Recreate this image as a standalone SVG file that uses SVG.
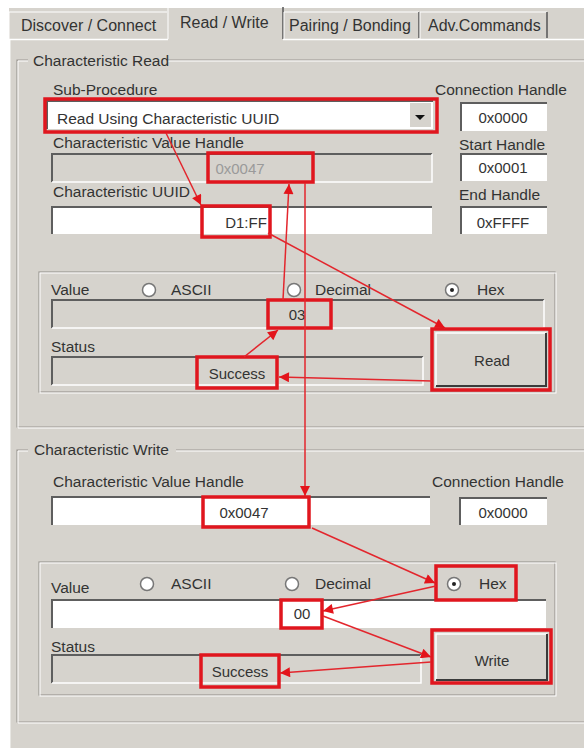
<svg xmlns="http://www.w3.org/2000/svg" width="584" height="751" viewBox="0 0 584 751">
<defs>
<style>
text{font-family:"Liberation Sans",Arial,sans-serif;fill:#333333}
.lbl{font-size:15.5px}
.tab{font-size:16px}
.val{font-size:15px;text-anchor:middle}
.dim{fill:#9a9a9a}
.hl{fill:none;stroke:#e0161e;stroke-width:3.5}
.e1{stroke:#9b9893;stroke-width:1.2;fill:none}
.e2{stroke:#ffffff;stroke-width:1;fill:none}
.fw{fill:#ffffff}
.fg{fill:#d6d3cd}
.sunk{fill:none;stroke:#5e5e5e;stroke-width:2}
.lite{fill:none;stroke:#ffffff;stroke-width:1.5}
.btnhi{fill:none;stroke:#ffffff;stroke-width:1.5}
.btnsh{fill:none;stroke:#3a3a3a;stroke-width:2}
.radio{fill:#ffffff;stroke:#777;stroke-width:1.5}
.conn line{stroke:#e3262d;stroke-width:1.5;fill:none;marker-end:url(#ah)}
</style>
<marker id="ah" viewBox="0 0 10 10" refX="10" refY="5" markerWidth="12" markerHeight="10" markerUnits="userSpaceOnUse" orient="auto"><path d="M0,0 L10,5 L0,10 z" fill="#e3141b"/></marker>
</defs>

<!-- background -->
<rect x="0" y="0" width="584" height="751" fill="#ffffff"/>
<rect x="9" y="8" width="575" height="740" fill="#d6d3cd"/>

<!-- tabs -->
<g id="tabs">
  <path d="M9,39 V12 H167" class="e2" stroke-width="1.5"/>
  <text class="tab" x="21" y="31">Discover / Connect</text>
  <path d="M168,39 V7 H283" class="e2" stroke-width="1.5"/>
  <path d="M283,7 V39" stroke="#555" stroke-width="1.5"/>
  <text class="tab" x="180" y="28">Read / Write</text>
  <path d="M284,39 V12 H419" class="e2"/>
  <path d="M419,12 V38" stroke="#555" stroke-width="1.5"/>
  <text class="tab" x="289" y="31">Pairing / Bonding</text>
  <path d="M420,39 V12 H547" class="e2"/>
  <path d="M547,12 V38" stroke="#555" stroke-width="1.5"/>
  <text class="tab" x="428" y="31">Adv.Commands</text>
  <path d="M9,39.5 H168 M283,39.5 H584 M9.7,39 V748" stroke="#ffffff" stroke-width="1.5"/>
</g>

<!-- Characteristic Read group -->
<g id="read-group">
  <path d="M28,60 H17 V427 H584 M168,60 H584" class="e1"/>
  <path d="M28,61 H18 V428 H584 M168,61 H584" class="e2"/>
  <text class="lbl" x="33" y="66">Characteristic Read</text>
  <text class="lbl" x="53" y="95">Sub-Procedure</text>
  <text class="lbl" x="435" y="95">Connection Handle</text>
  <text class="lbl" x="53" y="148">Characteristic Value Handle</text>
  <text class="lbl" x="459" y="150">Start Handle</text>
  <text class="lbl" x="53" y="197">Characteristic UUID</text>
  <text class="lbl" x="459" y="200">End Handle</text>
</g>

<g id="sub-procedure">
  <rect x="47" y="101" width="386" height="28" class="fw"/>
  <path d="M47,129 V101 H433" class="sunk"/>
  <rect x="410" y="103" width="21" height="24" class="fg"/>
  <path d="M415,115 H425 L420,120 Z" fill="#111"/>
  <text class="lbl" x="57" y="124">Read Using Characteristic UUID</text>
  <rect x="45" y="99" width="392" height="33" class="hl"/>
</g>

<g id="read-conn-handle">
  <rect x="461" y="103" width="86" height="28" class="fw"/>
  <path d="M461,131 V103 H547" class="sunk"/>
  <text class="val" x="503" y="123">0x0000</text>
</g>

<g id="read-value-handle-field">
  <rect x="52" y="154" width="380" height="28" class="fg"/>
  <path d="M52,182 V154 H432" class="sunk"/>
  <path d="M52,182 H432 V154" class="lite"/>
</g>
<g id="read-handle">
  <text class="val dim" x="240" y="174">0x0047</text>
  <rect x="208" y="153" width="105" height="29" class="hl"/>
</g>

<g id="start-handle">
  <rect x="461" y="154" width="86" height="27" class="fw"/>
  <path d="M461,181 V154 H547" class="sunk"/>
  <text class="val" x="503" y="173">0x0001</text>
</g>

<g id="uuid-field">
  <rect x="52" y="207" width="380" height="27" class="fw"/>
  <path d="M52,234 V207 H432" class="sunk"/>
</g>
<g id="uuid">
  <text class="val" x="246" y="228">D1:FF</text>
  <rect x="202" y="206" width="68" height="31" class="hl"/>
</g>

<g id="end-handle">
  <rect x="461" y="207" width="86" height="27" class="fw"/>
  <path d="M461,234 V207 H547" class="sunk"/>
  <text class="val" x="503" y="228">0xFFFF</text>
</g>

<!-- read value sub-group -->
<g id="read-value-group">
  <rect x="39" y="272" width="516" height="120" class="e1"/>
  <rect x="40" y="273" width="516" height="120" class="e2"/>
  <text class="lbl" x="51" y="295">Value</text>
  <circle cx="149" cy="290" r="6.5" class="radio"/>
  <text class="lbl" x="171" y="295">ASCII</text>
  <circle cx="294" cy="290" r="6.5" class="radio"/>
  <text class="lbl" x="315" y="295">Decimal</text>
  <circle cx="452" cy="290" r="6.5" class="radio"/>
  <circle cx="452" cy="290" r="2" fill="#222"/>
  <text class="lbl" x="477" y="295">Hex</text>
  <rect x="52" y="300" width="492" height="28" class="fg"/>
  <path d="M52,328 V300 H544" class="sunk"/>
  <path d="M52,328 H544 V300" class="lite"/>
  <text class="lbl" x="51" y="352">Status</text>
  <rect x="52" y="357" width="371" height="28" class="fg"/>
  <path d="M52,385 V357 H423" class="sunk"/>
  <path d="M52,385 H423 V357" class="lite"/>
</g>
<g id="read-value">
  <text class="val" x="297" y="320">03</text>
  <rect x="268" y="300" width="63" height="28" class="hl"/>
</g>
<g id="read-status">
  <text class="val" x="237" y="379">Success</text>
  <rect x="197" y="357" width="80" height="31" class="hl"/>
</g>
<g id="read-button">
  <rect x="436" y="333" width="110" height="53" class="fg"/>
  <path d="M436,386 V333 H546" class="btnhi"/>
  <path d="M436,386 H546 V333" class="btnsh"/>
  <text class="val" x="492" y="366" font-size="15.5">Read</text>
  <rect x="432" y="329" width="118" height="61" class="hl"/>
</g>

<!-- Characteristic Write group -->
<g id="write-group">
  <path d="M28,450 H17 V722 H584 M176,450 H584" class="e1"/>
  <path d="M28,451 H18 V723 H584 M176,451 H584" class="e2"/>
  <text class="lbl" x="34" y="455">Characteristic Write</text>
  <text class="lbl" x="53" y="487">Characteristic Value Handle</text>
  <text class="lbl" x="432" y="487">Connection Handle</text>
</g>
<g id="write-handle-field">
  <rect x="52" y="497" width="378" height="28" class="fw"/>
  <path d="M52,525 V497 H430" class="sunk"/>
</g>
<g id="write-handle">
  <text class="val" x="244" y="518">0x0047</text>
  <rect x="203" y="497" width="106" height="30" class="hl"/>
</g>
<g id="write-conn-handle">
  <rect x="460" y="498" width="87" height="27" class="fw"/>
  <path d="M460,525 V498 H547" class="sunk"/>
  <text class="val" x="503" y="518">0x0000</text>
</g>

<g id="write-value-group">
  <rect x="39" y="562" width="516" height="133" class="e1"/>
  <rect x="40" y="563" width="516" height="133" class="e2"/>
  <text class="lbl" x="51" y="593">Value</text>
  <circle cx="147" cy="584" r="6.5" class="radio"/>
  <text class="lbl" x="171" y="589">ASCII</text>
  <circle cx="292" cy="584" r="6.5" class="radio"/>
  <text class="lbl" x="315" y="589">Decimal</text>
  <rect x="52" y="600" width="494" height="28" class="fw"/>
  <path d="M52,628 V600 H546" class="sunk"/>
  <text class="lbl" x="51" y="652">Status</text>
  <rect x="52" y="655" width="369" height="28" class="fg"/>
  <path d="M52,683 V655 H421" class="sunk"/>
  <path d="M52,683 H421 V655" class="lite"/>
</g>
<g id="write-hex">
  <circle cx="454" cy="584" r="6.5" class="radio"/>
  <circle cx="454" cy="584" r="2" fill="#222"/>
  <text class="lbl" x="479" y="589">Hex</text>
  <rect x="436" y="566" width="80" height="34" class="hl"/>
</g>
<g id="write-value">
  <text class="val" x="302" y="619">00</text>
  <rect x="281" y="600" width="41" height="28" class="hl"/>
</g>
<g id="write-status">
  <text class="val" x="240" y="677">Success</text>
  <rect x="201" y="655" width="78" height="32" class="hl"/>
</g>
<g id="write-button">
  <rect x="436" y="634" width="111" height="46" class="fg"/>
  <path d="M436,680 V634 H547" class="btnhi"/>
  <path d="M436,680 H547 V634" class="btnsh"/>
  <text class="val" x="492" y="666" font-size="15.5">Write</text>
  <rect x="432" y="630" width="119" height="53" class="hl"/>
</g>

<!-- connectors -->
<g id="connectors" class="conn">
  <line x1="166" y1="133" x2="201" y2="205"/>
  <line x1="268" y1="233" x2="445" y2="328"/>
  <line x1="305" y1="183" x2="305" y2="496"/>
  <line x1="283" y1="300" x2="289" y2="184"/>
  <line x1="432" y1="381" x2="279" y2="377"/>
  <line x1="244" y1="357" x2="278" y2="330"/>
  <line x1="312" y1="528" x2="435" y2="583"/>
  <line x1="436" y1="586" x2="323" y2="611"/>
  <line x1="323" y1="616" x2="431" y2="657"/>
  <line x1="431" y1="662" x2="280" y2="673"/>
</g>
</svg>
